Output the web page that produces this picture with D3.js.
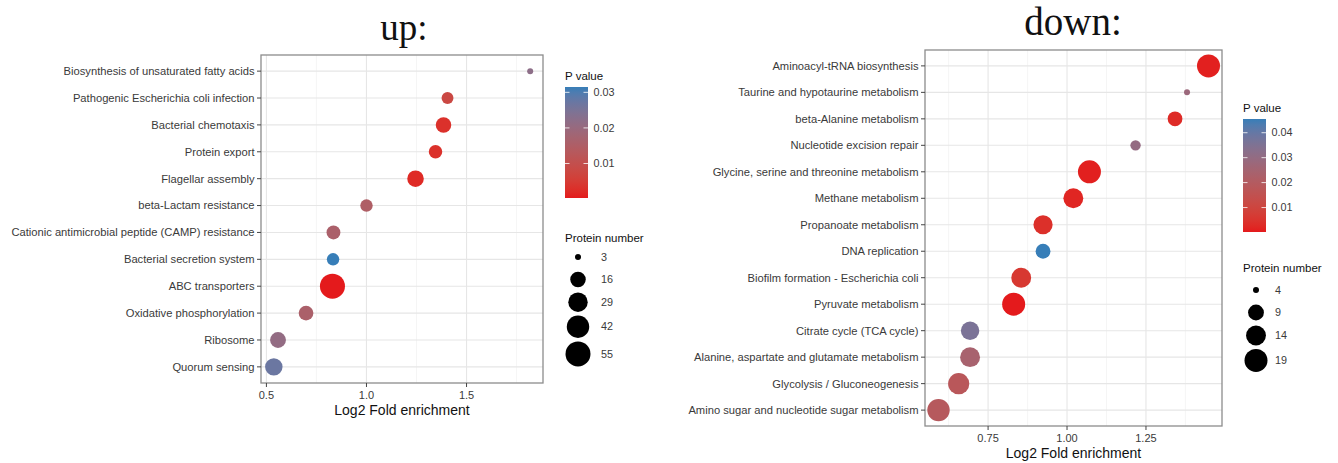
<!DOCTYPE html>
<html><head><meta charset="utf-8">
<script src="https://cdn.jsdelivr.net/npm/d3@7"></script>
<style>body{margin:0;background:#fff} svg{display:block}</style>
</head><body><svg id="chart" width="1338" height="463"></svg>
<script>
// ---------- DATA ----------
const upTitle = "up:";
const upPathways = [
  "Biosynthesis of unsaturated fatty acids",
  "Pathogenic Escherichia coli infection",
  "Bacterial chemotaxis",
  "Protein export",
  "Flagellar assembly",
  "beta-Lactam resistance",
  "Cationic antimicrobial peptide (CAMP) resistance",
  "Bacterial secretion system",
  "ABC transporters",
  "Oxidative phosphorylation",
  "Ribosome",
  "Quorum sensing"
];
const upFold   = [1.818, 1.405, 1.385, 1.345, 1.245, 1.000, 0.835, 0.833, 0.830, 0.698, 0.558, 0.537];
const upCount  = [3, 8, 16, 11, 19, 9, 12, 9, 55, 14, 17, 22];
const upPValue = [0.022, 0.008, 0.003, 0.003, 0.002, 0.015, 0.016, 0.0315, 0.0003, 0.016, 0.021, 0.027];
const upXTicks = [0.5, 1.0, 1.5];
const upPBreaks = [0.01, 0.02, 0.03];
const upCountBreaks = [3, 16, 29, 42, 55];

const downTitle = "down:";
const downPathways = [
  "Aminoacyl-tRNA biosynthesis",
  "Taurine and hypotaurine metabolism",
  "beta-Alanine metabolism",
  "Nucleotide excision repair",
  "Glycine, serine and threonine metabolism",
  "Methane metabolism",
  "Propanoate metabolism",
  "DNA replication",
  "Biofilm formation - Escherichia coli",
  "Pyruvate metabolism",
  "Citrate cycle (TCA cycle)",
  "Alanine, aspartate and glutamate metabolism",
  "Glycolysis / Gluconeogenesis",
  "Amino sugar and nucleotide sugar metabolism"
];
const downFold   = [1.448, 1.380, 1.342, 1.217, 1.071, 1.020, 0.924, 0.924, 0.855, 0.831, 0.693, 0.693, 0.657, 0.593];
const downCount  = [19, 4, 8, 5, 19, 14, 13, 8, 14, 19, 12, 14, 16, 18];
const downPValue = [0.001, 0.028, 0.003, 0.030, 0.001, 0.002, 0.004, 0.0455, 0.006, 0.0002, 0.036, 0.024, 0.018, 0.019];
const downXTicks = [0.75, 1.00, 1.25];
const downPBreaks = [0.01, 0.02, 0.03, 0.04];
const downCountBreaks = [4, 9, 14, 19];

const xAxisTitle = "Log2 Fold enrichment";
const colorLegendTitle = "P value";
const sizeLegendTitle = "Protein number";

// ---------- STYLE ----------
const lowColor = "#E41A1C", highColor = "#377EB8";
const sans = "'Liberation Sans', Arial, Helvetica, sans-serif";
const serif = "'Liberation Serif', 'Times New Roman', serif";
const txt = "#3a3a3a";

const svg = d3.select("#chart");
const defs = svg.append("defs");

function expandDomain(ext, f) { const d = ext[1] - ext[0]; return [ext[0] - d * f, ext[1] + d * f]; }

function drawPanel(s) {
  const g = svg.append("g");
  const b = s.box;
  const x = d3.scaleLinear().domain(expandDomain(d3.extent(s.fold), 0.05)).range([b.x0, b.x1]);
  const y = d3.scalePoint().domain(s.pathways).range([b.y0, b.y1]).padding(0.6);
  const pExt = d3.extent(s.pvalue);
  const color = d3.scaleLinear().domain(pExt).range([lowColor, highColor]).interpolate(d3.interpolateLab);
  const cExt = d3.extent(s.count);
  const rs = d3.scaleSqrt().domain([0, cExt[1] - cExt[0]]).range(s.rRange);
  const radius = v => rs(v - cExt[0]);

  // title
  g.append("text").attr("x", s.titleX).attr("y", s.titleY).attr("text-anchor", "middle")
    .attr("font-family", serif).attr("font-size", s.titleSize).attr("fill", "#111").text(s.title);

  // panel background
  g.append("rect").attr("x", b.x0).attr("y", b.y0).attr("width", b.x1 - b.x0).attr("height", b.y1 - b.y0).attr("fill", "#fff");

  const dom = x.domain();
  const step = s.xTicks[1] - s.xTicks[0];
  const minor = d3.range(-12, 12).map(i => s.xTicks[0] + (i + 0.5) * step).filter(v => v > dom[0] && v < dom[1]);
  g.selectAll(".minor").data(minor).join("line")
    .attr("x1", d => x(d)).attr("x2", d => x(d)).attr("y1", b.y0).attr("y2", b.y1)
    .attr("stroke", "#f1f1f1").attr("stroke-width", 0.7);
  g.selectAll(".majx").data(s.xTicks).join("line")
    .attr("x1", d => x(d)).attr("x2", d => x(d)).attr("y1", b.y0).attr("y2", b.y1)
    .attr("stroke", "#e6e6e6").attr("stroke-width", 1.1);
  g.selectAll(".majy").data(s.pathways).join("line")
    .attr("x1", b.x0).attr("x2", b.x1).attr("y1", d => y(d)).attr("y2", d => y(d))
    .attr("stroke", "#e6e6e6").attr("stroke-width", 1.1);

  // points
  const idx = d3.range(s.pathways.length);
  g.selectAll(".pt").data(idx).join("circle")
    .attr("cx", i => x(s.fold[i])).attr("cy", i => y(s.pathways[i]))
    .attr("r", i => radius(s.count[i]))
    .attr("fill", i => color(s.pvalue[i]));

  // border
  g.append("rect").attr("x", b.x0).attr("y", b.y0).attr("width", b.x1 - b.x0).attr("height", b.y1 - b.y0)
    .attr("fill", "none").attr("stroke", "#8c8c8c").attr("stroke-width", 1.3);

  // y axis
  g.selectAll(".yt").data(s.pathways).join("line")
    .attr("x1", b.x0 - 4).attr("x2", b.x0).attr("y1", d => y(d)).attr("y2", d => y(d))
    .attr("stroke", "#444").attr("stroke-width", 1);
  g.selectAll(".yl").data(s.pathways).join("text")
    .attr("x", b.x0 - 6.5).attr("y", d => y(d)).attr("dy", "0.35em").attr("text-anchor", "end")
    .attr("font-family", sans).attr("font-size", 11.2).attr("fill", txt).text(d => d);

  // x axis
  g.selectAll(".xt").data(s.xTicks).join("line")
    .attr("x1", d => x(d)).attr("x2", d => x(d)).attr("y1", b.y1).attr("y2", b.y1 + 4)
    .attr("stroke", "#444").attr("stroke-width", 1);
  g.selectAll(".xl").data(s.xTicks).join("text")
    .attr("x", d => x(d)).attr("y", b.y1 + 12).attr("dy", "0.35em").attr("text-anchor", "middle")
    .attr("font-family", sans).attr("font-size", 11).attr("fill", txt).text(d => d3.format(s.xFmt)(d));
  g.append("text").attr("x", (b.x0 + b.x1) / 2).attr("y", b.y1 + 27).attr("dy", "0.35em").attr("text-anchor", "middle")
    .attr("font-family", sans).attr("font-size", 14).attr("fill", "#111").text(xAxisTitle);

  // colour legend
  const L = s.legend;
  g.append("text").attr("x", L.x).attr("y", L.pTitleY).attr("dy", "0.35em")
    .attr("font-family", sans).attr("font-size", 11.5).attr("fill", "#111").text(colorLegendTitle);
  const gradId = "grad" + s.id;
  const grad = defs.append("linearGradient").attr("id", gradId).attr("x1", 0).attr("y1", 1).attr("x2", 0).attr("y2", 0);
  d3.range(0, 1.0001, 0.05).forEach(t => {
    grad.append("stop").attr("offset", t).attr("stop-color", color(pExt[0] + t * (pExt[1] - pExt[0])));
  });
  const barY = d3.scaleLinear().domain(pExt).range([L.barBottom, L.barTop]);
  g.append("rect").attr("x", L.x).attr("y", L.barTop).attr("width", L.barW).attr("height", L.barBottom - L.barTop)
    .attr("fill", `url(#${gradId})`);
  s.pBreaks.forEach(v => {
    const yy = barY(v);
    g.append("line").attr("x1", L.x).attr("x2", L.x + 4.5).attr("y1", yy).attr("y2", yy).attr("stroke", "#fff").attr("stroke-width", 1).attr("opacity", 0.8);
    g.append("line").attr("x1", L.x + L.barW - 4.5).attr("x2", L.x + L.barW).attr("y1", yy).attr("y2", yy).attr("stroke", "#fff").attr("stroke-width", 1).attr("opacity", 0.8);
    g.append("text").attr("x", L.x + L.barW + 5.5).attr("y", yy).attr("dy", "0.35em")
      .attr("font-family", sans).attr("font-size", 10.8).attr("fill", txt).text(d3.format(".2f")(v));
  });

  // size legend
  g.append("text").attr("x", L.x).attr("y", L.sTitleY).attr("dy", "0.35em")
    .attr("font-family", sans).attr("font-size", 11.5).attr("fill", "#111").text(sizeLegendTitle);
  let cy = L.firstCircleY;
  s.countBreaks.forEach((v, i) => {
    if (i > 0) {
      const hPrev = Math.max(22.5, 2 * radius(s.countBreaks[i - 1]) + 3.5);
      const hCur = Math.max(22.5, 2 * radius(v) + 3.5);
      cy += (hPrev + hCur) / 2;
    }
    g.append("circle").attr("cx", L.circleX).attr("cy", cy).attr("r", radius(v)).attr("fill", "#000");
    g.append("text").attr("x", L.labelX).attr("y", cy).attr("dy", "0.35em")
      .attr("font-family", sans).attr("font-size", 10.8).attr("fill", txt).text(v);
  });
}

drawPanel({
  id: "up", title: upTitle, titleX: 404, titleY: 40, titleSize: 37,
  pathways: upPathways, fold: upFold, count: upCount, pvalue: upPValue,
  xTicks: upXTicks, xFmt: ".1f", pBreaks: upPBreaks, countBreaks: upCountBreaks,
  box: { x0: 261, x1: 543, y0: 55, y1: 383 },
  rRange: [3, 12.5],
  legend: { x: 565, barW: 23, pTitleY: 76, barTop: 87, barBottom: 198, sTitleY: 238,
            firstCircleY: 257, circleX: 578, labelX: 601 }
});

drawPanel({
  id: "down", title: downTitle, titleX: 1073, titleY: 35, titleSize: 39,
  pathways: downPathways, fold: downFold, count: downCount, pvalue: downPValue,
  xTicks: downXTicks, xFmt: ".2f", pBreaks: downPBreaks, countBreaks: downCountBreaks,
  box: { x0: 925, x1: 1222, y0: 50, y1: 426 },
  rRange: [3, 11.5],
  legend: { x: 1243, barW: 23, pTitleY: 108, barTop: 119, barBottom: 232, sTitleY: 268,
            firstCircleY: 290, circleX: 1256, labelX: 1275 }
});
</script>
</body></html>
